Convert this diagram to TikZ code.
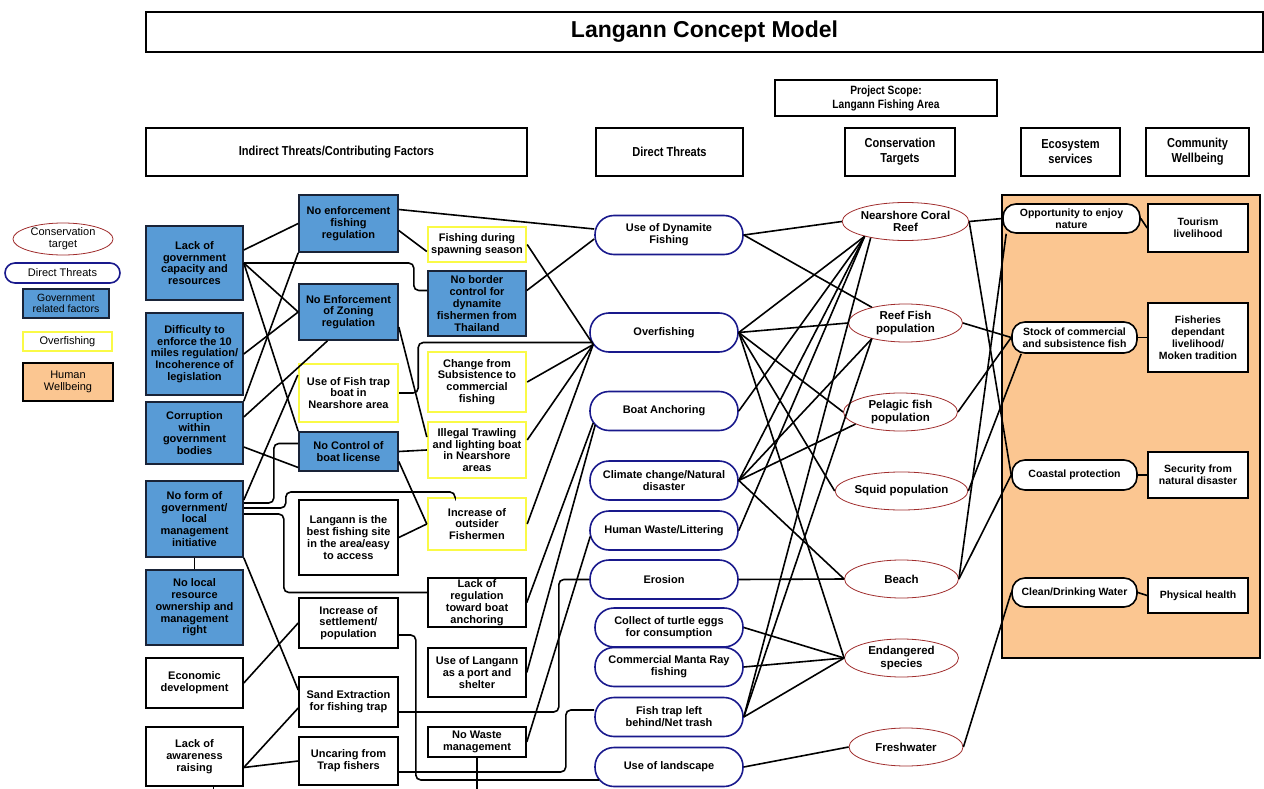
\documentclass[tikz,border=0pt]{standalone}
\usepackage{fontspec}
\setmainfont{Liberation Sans}
\newfontfamily\narrowfont[FakeStretch=0.85]{Liberation Sans}
\usetikzlibrary{shapes.geometric}
\definecolor{govblue}{RGB}{88,155,214}
\definecolor{govedge}{RGB}{25,35,55}
\definecolor{ovfyellow}{RGB}{250,250,70}
\definecolor{thrnavy}{RGB}{25,25,140}
\definecolor{tgtred}{RGB}{160,45,45}
\definecolor{wellorange}{RGB}{251,198,145}
\tikzset{
  link/.style={line width=1.6pt, rounded corners=5pt},
  cbox/.style={draw, line width=1.6pt, align=center, inner sep=1pt,
    minimum width=98pt, font=\bfseries\fontsize{11}{11.8}\selectfont},
  govbox/.style={cbox, fill=govblue, draw=govedge},
  ovfbox/.style={cbox, draw=ovfyellow, line width=2.4pt, fill=white},
  plainbox/.style={cbox, fill=white},
  threat/.style={draw=thrnavy, line width=1.6pt, rounded corners=19pt,
    fill=white, minimum width=148pt, minimum height=39pt, align=center,
    inner sep=1pt, font=\bfseries\fontsize{11}{12}\selectfont},
  target/.style={ellipse, draw=tgtred, line width=0.8pt, fill=white,
    minimum width=114pt, minimum height=38pt, inner sep=0pt, align=center,
    font=\bfseries\fontsize{11.5}{12.5}\selectfont},
  eco/.style={draw, line width=1.6pt, rounded corners=13pt, fill=white,
    minimum width=125pt, minimum height=29pt, align=center, inner sep=1pt,
    font=\bfseries\fontsize{10.5}{11.5}\selectfont},
  well/.style={draw, line width=1.6pt, fill=white, minimum width=100pt,
    align=center, inner sep=1pt, font=\bfseries\fontsize{10.5}{12}\selectfont},
  hdr/.style={draw, line width=1.4pt, minimum height=48pt, align=center,
    font=\narrowfont\bfseries\fontsize{13}{15}\selectfont},
  legtext/.style={font=\fontsize{11}{12}\selectfont}
}
\begin{document}
\begin{tikzpicture}[x=1pt,y=-1pt]
\useasboundingbox (0,0) rectangle (1264,789);
% headers
\node[hdr, minimum width=1117pt, minimum height=40pt,
  font=\bfseries\fontsize{23}{26}\selectfont] (title) at (704.5,32) {Langann Concept Model};
\node[hdr, minimum width=222pt, minimum height=36pt, font=\narrowfont\bfseries\fontsize{12}{14}\selectfont]
  (scope) at (886,98) {Project Scope:\\Langann Fishing Area};
\node[hdr, minimum width=381pt] (hind) at (336.5,152) {Indirect Threats/Contributing Factors};
\node[hdr, minimum width=147pt] (hdir) at (669.5,152) {Direct Threats};
\node[hdr, minimum width=110pt] (hcon) at (900,152) {Conservation\\Targets};
\node[hdr, minimum width=99pt] (heco) at (1070.5,152) {Ecosystem\\services};
\node[hdr, minimum width=103pt] (hcom) at (1197.5,152) {Community\\Wellbeing};
% legend
\node[target, legtext, minimum width=100pt, minimum height=32pt] (lgtarget) at (63,239) {Conservation\\target};
\node[threat, legtext, minimum width=115pt, minimum height=20pt, rounded corners=10pt] (lgthreat) at (62.5,273) {Direct Threats};
\node[govbox, minimum width=86pt, minimum height=29pt, font=\fontsize{10.5}{11.5}\selectfont] (lggov) at (66,303.5) {Government\\related factors};
\node[ovfbox, legtext, minimum width=89pt, minimum height=19pt] (lgovf) at (67.5,341.5) {Overfishing};
\node[plainbox, legtext, fill=wellorange, minimum width=90pt, minimum height=38pt] (lgwell) at (68,382) {Human\\Wellbeing};
% first column
\node[govbox, minimum width=97pt, minimum height=74pt] (lgc) at (194.5,263) {Lack of\\government\\capacity and\\resources};
\node[govbox, minimum width=97pt, minimum height=82pt] (dif) at (194.5,354) {Difficulty to\\enforce the 10\\miles regulation/\\Incoherence of\\legislation};
\node[govbox, minimum width=97pt, minimum height=62pt] (cor) at (194.5,433) {Corruption\\within\\government\\bodies};
\node[govbox, minimum width=97pt, minimum height=76pt] (nfm) at (194.5,519) {No form of\\government/\\local\\management\\initiative};
\node[govbox, minimum width=97pt, minimum height=75pt] (nlr) at (194.5,607.5) {No local\\resource\\ownership and\\management\\right};
\node[plainbox, minimum width=97pt, minimum height=50pt] (ecd) at (194.5,683) {Economic\\development};
\node[plainbox, minimum width=97pt, minimum height=59pt] (law) at (194.5,756.5) {Lack of\\awareness\\raising};
% second column
\node[govbox, minimum width=99pt, minimum height=57pt] (nef) at (348.5,223.5) {No enforcement\\fishing\\regulation};
\node[govbox, minimum width=99pt, minimum height=56pt] (nez) at (348.5,312) {No Enforcement\\of Zoning\\regulation};
\node[ovfbox, minimum width=99pt, minimum height=58pt] (ftb) at (348.5,393) {Use of Fish trap\\boat in\\Nearshore area};
\node[govbox, minimum width=99pt, minimum height=39pt] (ncb) at (348.5,451.5) {No Control of\\boat license};
\node[plainbox, minimum width=99pt, minimum height=75pt] (lbs) at (348.5,537.5) {Langann is the\\best fishing site\\in the area/easy\\to access};
\node[plainbox, minimum width=99pt, minimum height=50pt] (ins) at (348.5,623) {Increase of\\settlement/\\population};
\node[plainbox, minimum width=99pt, minimum height=50pt] (sex) at (348.5,702) {Sand Extraction\\for fishing trap};
\node[plainbox, minimum width=99pt, minimum height=48pt] (utf) at (348.5,761) {Uncaring from\\Trap fishers};
% third column
\node[ovfbox, minimum height=35pt] (fds) at (477,244.5) {Fishing during\\spawning season};
\node[govbox, minimum height=65pt] (nbc) at (477,303.5) {No border\\control for\\dynamite\\fishermen from\\Thailand};
\node[ovfbox, minimum height=60pt] (csc) at (477,382) {Change from\\Subsistence to\\commercial\\fishing};
\node[ovfbox, minimum height=56pt] (itl) at (477,450) {Illegal Trawling\\and lighting boat\\in Nearshore\\areas};
\node[ovfbox, minimum height=52pt] (iof) at (477,524) {Increase of\\outsider\\Fishermen};
\node[plainbox, minimum height=49pt] (lra) at (477,602.5) {Lack of\\regulation\\toward boat\\anchoring};
\node[plainbox, minimum height=49pt] (ulp) at (477,672.5) {Use of Langann\\as a port and\\shelter};
\node[plainbox, minimum height=30pt] (nwm) at (477,742) {No Waste\\management};
% direct threats
\node[threat] (udf) at (669,235) {Use of Dynamite\\Fishing};
\node[threat] (overf) at (664,332.5) {Overfishing};
\node[threat] (ban) at (664,411) {Boat Anchoring};
\node[threat] (ccd) at (664,480.5) {Climate change/Natural\\disaster};
\node[threat] (hwl) at (664,530.5) {Human Waste/Littering};
\node[threat] (ero) at (664,579.5) {Erosion};
\node[threat] (cte) at (669,627.5) {Collect of turtle eggs\\for consumption};
\node[threat] (cmr) at (669,667) {Commercial Manta Ray\\fishing};
\node[threat] (ftl) at (669,717) {Fish trap left\\behind/Net trash};
\node[threat] (ulc) at (669,767) {Use of landscape};
% conservation targets
\node[target] (coral) at (905.5,221.5) {Nearshore Coral\\Reef};
\node[target] (reef) at (905.5,323) {Reef Fish\\population};
\node[target] (pel) at (900.5,412) {Pelagic fish\\population};
\node[target] (sqd) at (901.5,491) {Squid population};
\node[target] (bch) at (901.5,579) {Beach};
\node[target] (endg) at (901.5,658) {Endangered\\species};
\node[target] (fw) at (906,747) {Freshwater};
% human wellbeing area
\node[draw, line width=1.6pt, fill=wellorange, minimum width=258pt, minimum height=463pt] (hwarea) at (1131,426.5) {};
\node[eco, minimum width=137pt] (opp) at (1071.5,218.5) {Opportunity to enjoy\\nature};
\node[eco, minimum height=31pt] (stock) at (1074.5,337.5) {Stock of commercial\\and subsistence fish};
\node[eco, minimum height=30pt] (coast) at (1074.5,475) {Coastal protection};
\node[eco] (clean) at (1074.5,592.5) {Clean/Drinking Water};
\node[well, minimum height=48pt] (tour) at (1198,228) {Tourism\\livelihood};
\node[well, minimum height=69pt] (fishl) at (1198,337.5) {Fisheries\\dependant\\livelihood/\\Moken tradition};
\node[well, minimum height=46pt] (sec) at (1198,475) {Security from\\natural disaster};
\node[well, minimum height=35pt] (phys) at (1198,595.5) {Physical health};
\coordinate (lawend) at (213.5,789);
\coordinate (nwmend) at (477,789);
% first column links
\draw[link] ([yshift=13pt]lgc.east) -- (nef.west);
\draw[link] (lgc.east) -- (nez.west);
\draw[link] (lgc.east) -- ++(170,0) |- ([yshift=13pt]nbc.west);
\draw[link] (lgc.east) -- (ncb.north west);
\draw[link] (cor.north east) -- (nef.south west);
\draw[link] (dif.east) -- (nez.west);
\draw[link] ([yshift=16pt]cor.east) -- ([xshift=-21pt]nez.south);
\draw[link] ([yshift=-14pt]cor.east) -- ([yshift=-16pt]ncb.west);
\draw[link] ([yshift=19pt]nfm.east) -- ([yshift=18pt]ftb.west);
\draw[link] ([yshift=16pt]nfm.east) -- ++(30,0) |- ([yshift=8pt]ncb.west);
\draw[link] ([yshift=11pt]nfm.east) -- ++(42,0) -- ++(0,-16) -| ([xshift=-22pt]iof.north);
\draw[link] ([yshift=5pt]nfm.east) -- ++(40,0) |- ([yshift=10pt]lra.west);
\draw[link] (nfm.south) -- (nlr.north);
\draw[link] (nfm.south east) -- ([yshift=12pt]sex.west);
\draw[link] (ecd.east) -- (ins.west);
\draw[link] ([yshift=-11pt]law.east) -- ([yshift=-6pt]sex.west);
\draw[link] ([yshift=-11pt]law.east) -- (utf.west);
\draw[link] ([xshift=19pt]law.south) -- (lawend);
% second column links
\draw[link] ([yshift=14pt]nef.east) -- ([yshift=6pt]udf.west);
\draw[link] ([yshift=-7pt]nef.east) -- ([yshift=-7pt]fds.west);
\draw[link] ([yshift=-15pt]nez.east) -- ([yshift=13pt]itl.west);
\draw[link] (ftb.east) -- ++(19,0) |- ([xshift=3pt,yshift=-10pt]overf.west);
\draw[link] (ncb.east) -- (itl.west);
\draw[link] ([yshift=-10pt]ncb.east) -- (iof.west);
\draw[link] (lbs.east) -- (iof.west);
\draw[link] ([yshift=-12pt]ins.east) -- ++(17,0) |- ([xshift=5pt,yshift=-13pt]ulc.west);
\draw[link] ([yshift=-10pt]sex.east) -- ++(160,0) |- (ero.west);
\draw[link] ([yshift=-11pt]utf.east) -- ++(167,0) |- ([yshift=7pt]ftl.west);
% third column links
\draw[link] (fds.east) -- ([xshift=4pt,yshift=-12pt]overf.west);
\draw[link] ([yshift=13pt]nbc.east) -- ([yshift=-4pt]udf.west);
\draw[link] (csc.east) -- ([xshift=4pt,yshift=-12pt]overf.west);
\draw[link] ([yshift=10pt]itl.east) -- ([xshift=4pt,yshift=-12pt]overf.west);
\draw[link] (iof.east) -- ([xshift=4pt,yshift=-12pt]overf.west);
\draw[link] (lra.east) -- ([xshift=4pt,yshift=-12pt]ban.west);
\draw[link] (ulp.east) -- ([xshift=6pt,yshift=-14pt]ban.west);
\draw[link] (nwm.east) -- ([xshift=1pt,yshift=-6pt]hwl.west);
\draw[link] (nwm.south) -- (nwmend);
% direct threats to targets
\draw[link] (udf.east) -- (coral.west);
\draw[link] (udf.east) -- (reef.155);
\draw[link] (overf.east) -- (coral.200);
\draw[link] (overf.east) -- (reef.west);
\draw[link] (overf.east) -- (pel.west);
\draw[link] (overf.east) -- (sqd.west);
\draw[link] (overf.east) -- (endg.west);
\draw[link] (ban.east) -- (coral.200);
\draw[link] (ccd.east) -- (coral.200);
\draw[link] (ccd.east) -- (reef.205);
\draw[link] (ccd.east) -- (pel.195);
\draw[link] (ccd.east) -- (bch.west);
\draw[link] (hwl.east) -- (coral.200);
\draw[link] (ero.east) -- (bch.west);
\draw[link] (cte.east) -- (endg.west);
\draw[link] (cmr.east) -- (endg.west);
\draw[link] (ftl.east) -- (endg.west);
\draw[link] (ftl.east) -- (coral.205);
\draw[link] (ftl.east) -- (reef.205);
\draw[link] (ulc.east) -- (fw.west);
% targets to services
\draw[link] (coral.east) -- (opp.west);
\draw[link] (coral.east) -- (coast.west);
\draw[link] (reef.east) -- (stock.west);
\draw[link] (pel.east) -- (stock.west);
\draw[link] (sqd.east) -- ([xshift=10pt]stock.south west);
\draw[link] (bch.east) -- ([xshift=4pt]opp.south west);
\draw[link] (bch.east) -- (coast.west);
\draw[link] (fw.east) -- (clean.west);
% services to wellbeing
\draw[link] (opp.east) -- (tour.west);
\draw[link] (stock.east) -- (fishl.west);
\draw[link] (coast.east) -- (sec.west);
\draw[link] (clean.east) -- (phys.west);
\end{tikzpicture}
\end{document}
